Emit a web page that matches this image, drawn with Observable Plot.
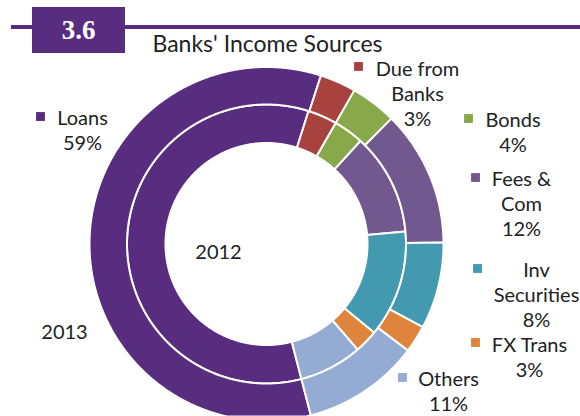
<!DOCTYPE html>
<html><head><meta charset="utf-8">
<script src="https://cdn.jsdelivr.net/npm/d3@7"></script>
<script src="https://cdn.jsdelivr.net/npm/@observablehq/plot@0.6"></script>
<style>
body{margin:0;background:#fff;}
#wrap{position:relative;width:580px;height:416px;overflow:hidden;font-family:Lato,sans-serif;}
#wrap svg{position:absolute;left:0;top:0;}
#rule{position:absolute;left:11px;top:25px;width:569px;height:4px;background:#582D7F;}
#badge{position:absolute;left:32px;top:7px;width:93px;height:46px;background:#582D7F;color:#fff;font:bold 27px "Liberation Serif",serif;display:flex;align-items:center;justify-content:center;}
#title{position:absolute;left:0;width:535px;top:29px;line-height:28px;text-align:center;font-size:23px;color:#222;font-family:Lato,sans-serif;}
</style>
</head><body>
<div id="wrap">
  <div id="rule"></div>
  <div id="badge">3.6</div>
  <div id="title">Banks' Income Sources</div>
</div>
<script>
// ---- data ----
const categories = ["Loans", "Due from Banks", "Bonds", "Fees & Com", "Inv Securities", "FX Trans", "Others"];
const labelNames = ["Loans", "Due from\nBanks", "Bonds", "Fees &\nCom", "Inv\nSecurities", "FX Trans", "Others"];
const values2012 = [58.9, 3.4, 3.5, 11.8, 12.4, 2.7, 7.3];
const values2013 = [59.0, 3.3, 4.2, 12.4, 7.9, 2.5, 10.7];
const pctLabels2013 = ["59%", "3%", "4%", "12%", "8%", "3%", "11%"];
const years = ["2012", "2013"];

// ---- style / layout ----
const colors = ["#582D7F", "#A8423F", "#88A84A", "#71588F", "#4299B0", "#DE843C", "#94ABD3"];
const W = 580, H = 416, CX = 266, CY = 243.5;
const rings = {"2012": [101, 139.5], "2013": [139.5, 177]};
const startDeg = 165.5; // clockwise from 12 o'clock
// label block centers (px) and legend key centers (px)
const labelPos = [
  {tx: 82, ty: 129, kx: 40, ky: 116},
  {tx: 417, ty: 92.5, kx: 358, ky: 66},
  {tx: 512.5, ty: 131, kx: 468, ky: 118},
  {tx: 521, ty: 202.5, kx: 475, ky: 177},
  {tx: 536, ty: 293.5, kx: 477, ky: 268},
  {tx: 529, ty: 355.5, kx: 475, ky: 342},
  {tx: 448, ty: 390, kx: 402, ky: 377}
];
const yearPos = {"2012": [218, 252], "2013": [64, 332]};

// ---- build ring polygons ----
const series = {"2012": values2012, "2013": values2013};
const a0 = startDeg * Math.PI / 180;
const features = [];
for (const yr of years) {
  const [r0, r1] = rings[yr];
  const arcs = d3.pie().sort(null).startAngle(a0).endAngle(a0 + 2 * Math.PI)(series[yr]);
  arcs.forEach((a, i) => {
    const n = Math.max(2, Math.ceil((a.endAngle - a.startAngle) / 0.005));
    const pts = [];
    for (let k = 0; k <= n; k++) {
      const t = a.startAngle + (a.endAngle - a.startAngle) * k / n;
      pts.push([r1 * Math.sin(t), -r1 * Math.cos(t)]);
    }
    for (let k = n; k >= 0; k--) {
      const t = a.startAngle + (a.endAngle - a.startAngle) * k / n;
      pts.push([r0 * Math.sin(t), -r0 * Math.cos(t)]);
    }
    pts.push(pts[0]);
    features.push({type: "Feature", properties: {cat: categories[i], year: yr}, geometry: {type: "Polygon", coordinates: [pts]}});
  });
}

const labels = categories.map((c, i) => ({
  cat: c,
  text: labelNames[i] + "\n" + pctLabels2013[i],
  x: labelPos[i].tx - CX, y: labelPos[i].ty - CY,
  kx: labelPos[i].kx - CX, ky: labelPos[i].ky - CY
}));
const yearLabels = years.map(y => ({year: y, x: yearPos[y][0] - CX, y: yearPos[y][1] - CY}));

const frame = {type: "Polygon", coordinates: [[[-CX, -CY], [W - CX, -CY], [W - CX, H - CY], [-CX, H - CY], [-CX, -CY]]]};

const chart = Plot.plot({
  width: W, height: H, margin: 0,
  style: {fontFamily: "Lato, sans-serif", background: "transparent"},
  projection: {type: "identity", domain: frame},
  color: {domain: categories, range: colors},
  marks: [
    Plot.geo(features, {fill: d => d.properties.cat, stroke: "white", strokeWidth: 2}),
    Plot.text(yearLabels, {x: "x", y: "y", text: "year", fontSize: 20, fill: "#222"}),
    Plot.dot(labels, {x: "kx", y: "ky", symbol: "square", r: 5, fill: "cat", stroke: null}),
    Plot.text(labels, {x: "x", y: "y", text: "text", fontSize: 20, lineHeight: 1.25, fill: "#222", textAnchor: "middle", lineAnchor: "middle"})
  ]
});
document.getElementById("wrap").prepend(chart);
</script>
</body></html>
